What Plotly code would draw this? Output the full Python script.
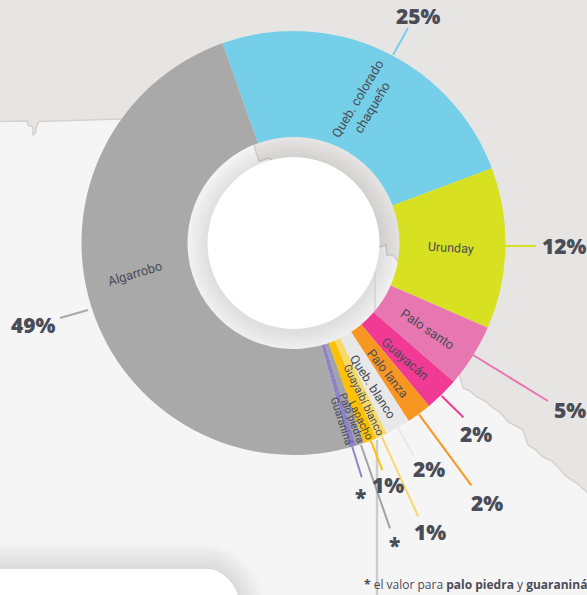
import plotly.graph_objects as go

W, H = 587, 595
CX, CY, R_OUT, R_RING, R_HOLE = 293.5, 243, 212, 106, 86

species = ["Queb. colorado<br>chaqueño", "Urunday", "Palo santo", "Guayacán", "Palo lanza",
           "Queb. blanco", "Guayaibí blanco", "Lapacho", "Palo piedra", "Guaraniná", "Algarrobo"]
shares = [24.7, 12.3, 4.8, 2.6, 1.9, 1.9, 0.9, 0.95, 0.6, 0.55, 48.8]
colors = ["#75cfe8", "#d7e021", "#e777b0", "#f03a93", "#f79722", "#e8e8e8",
          "#f8d96b", "#ffc000", "#a3a3a3", "#8f84c4", "#a9a9a9"]
value_labels = ["25%", "12%", "5%", "2%", "2%", "2%", "1%", "1%", "*", "*", "49%"]

TEXT = "#4a4c57"
label_pos = [(365, 103, -59), (451, 247, 3), (428, 329, 34), (405, 358, 41), (388, 373.5, 52),
             (373, 386, 57), (364, 400, 64), (361, 420, 64), (351, 418, 69), (342, 421, 72),
             (135, 274, -17)]
label_size = [13, 12.5, 13, 13, 12.5, 12.5, 11, 11, 10.5, 11, 12.8]
value_pos = [(418, 16), (564, 246), (570, 410), (476, 434), (487, 503), (429, 469),
             (430, 532), (388, 485), (394, 545), (360, 497), (33, 325)]
leader_pos = [((393, 55), (408, 28)), ((505, 246), (536, 246)), ((473, 355), (548, 401)),
              ((441.7, 396), (463.3, 417.3)), ((419, 414.3), (471.3, 485.3)),
              ((398.3, 428.3), (413.3, 455)), ((381.7, 436.7), (418.3, 516.7)),
              ((370.7, 440.7), (382.3, 470)), ((361, 445), (390, 528.3)),
              ((352.3, 446.7), (361.7, 477.3)), ((60, 318), (88, 310))]

border = [(-5, 121.5), (27, 121), (28, 125), (33, 127), (33, 135), (36, 132), (36, 128), (39, 121.5),
          (120, 119), (254, 144), (256, 152), (259, 161), (269, 158), (380, 247), (386, 245),
          (387, 255), (393, 255), (397, 260), (460, 377), (463, 388), (470, 391), (477, 397),
          (485, 401), (493, 408), (500, 412), (508, 422), (516, 426), (523, 430), (528, 445),
          (536, 450), (543, 457), (552, 461), (567, 477), (578, 484), (592, 497)]


def px(x):
    return x / W


def py(y):
    return 1 - y / H


def poly(points, close=True):
    s = "M" + " L".join(f"{px(x):.5f},{py(y):.5f}" for x, y in points)
    return s + (" Z" if close else "")


def circle(cx, cy, r, fill):
    return dict(type="circle", xref="paper", yref="paper", layer="below", line_width=0, fillcolor=fill,
                x0=px(cx - r), x1=px(cx + r), y0=py(cy + r), y1=py(cy - r))


def card_path(right, top, radius):
    k = radius * 0.45
    c = (f"C{px(right - radius + k):.5f},{py(top):.5f} {px(right):.5f},{py(top + radius - k):.5f} "
         f"{px(right):.5f},{py(top + radius):.5f}")
    return (f"M{px(-40):.5f},{py(top):.5f} L{px(right - radius):.5f},{py(top):.5f} {c} "
            f"L{px(right):.5f},{py(H + 40):.5f} L{px(-40):.5f},{py(H + 40):.5f} Z")


shapes = [dict(type="path", xref="paper", yref="paper", layer="below", path=poly(
    border + [(592, -5), (-5, -5)]), fillcolor="#e6e5e4", line=dict(color="#d2d2d2", width=1.5))]

# soft shadow of the bottom card
for d in range(26, 0, -2):
    shapes.append(dict(type="path", xref="paper", yref="paper", layer="below", path=card_path(238 + d, 569 - d, 30 + d),
                       fillcolor="rgba(0,0,0,0.0065)", line_width=0))
shapes.append(dict(type="path", xref="paper", yref="paper", layer="below", path=card_path(238, 569, 30),
                   fillcolor="#ffffff", line_width=0))

# vertical rule
shapes.append(dict(type="line", xref="paper", yref="paper", layer="below", x0=px(377), x1=px(377), y0=py(440), y1=py(595),
                   line=dict(color="#cccccc", width=2.5)))

# inner ring shadow and white centre
for r in range(108, R_HOLE, -2):
    shapes.append(circle(CX, CY + 3, r, "rgba(0,0,0,0.007)"))
shapes.append(dict(type="line", xref="paper", yref="paper", layer="below", x0=px(375), x1=px(375), y0=py(272), y1=py(311),
                   line=dict(color="#c8c8c8", width=1)))
shapes.append(circle(CX, CY, R_HOLE, "#ffffff"))

# leaders
for (a, b), c in zip(leader_pos, colors):
    shapes.append(dict(type="line", xref="paper", yref="paper", layer="below", x0=px(a[0]), y0=py(a[1]), x1=px(b[0]), y1=py(b[1]),
                       line=dict(color=c, width=2)))

annotations = []
for name, (x, y, ang), s in zip(species, label_pos, label_size):
    annotations.append(dict(text=name, x=px(x), y=py(y), xref="paper", yref="paper", showarrow=False, textangle=ang,
                            xanchor="center", yanchor="middle",
                            font=dict(family="Roboto", size=s, color=TEXT)))
for t, (x, y) in zip(value_labels, value_pos):
    annotations.append(dict(text=t, x=px(x), y=py(y), xref="paper", yref="paper", showarrow=False,
                            xanchor="center", yanchor="middle",
                            font=dict(family="Open Sans", size=21, color=TEXT, weight=800)))
annotations.append(dict(text="<b>*</b> el valor para <b>palo piedra</b> y <b>guaraniná</b>", x=px(362), y=py(584),
                        xref="paper", yref="paper", showarrow=False, xanchor="left", yanchor="middle", align="left",
                        font=dict(family="Open Sans", size=12, color=TEXT)))

fig = go.Figure(go.Pie(
    labels=[s.replace("<br>", " ") for s in species], values=shares, sort=False, direction="clockwise", rotation=340.4,
    hole=R_RING / R_OUT, marker=dict(colors=colors, line=dict(width=0)), textinfo="none", hoverinfo="label+percent",
    domain=dict(x=[px(CX - R_OUT), px(CX + R_OUT)], y=[py(CY + R_OUT), py(CY - R_OUT)]), showlegend=False,
))
fig.update_layout(width=W, height=H, margin=dict(l=0, r=0, t=0, b=0), paper_bgcolor="#f5f5f5",
                  plot_bgcolor="#f5f5f5", shapes=shapes, annotations=annotations)
fig.write_html("out.html", config=dict(displayModeBar=False),
               post_script="document.body.style.margin='0';document.body.style.overflow='hidden';")
